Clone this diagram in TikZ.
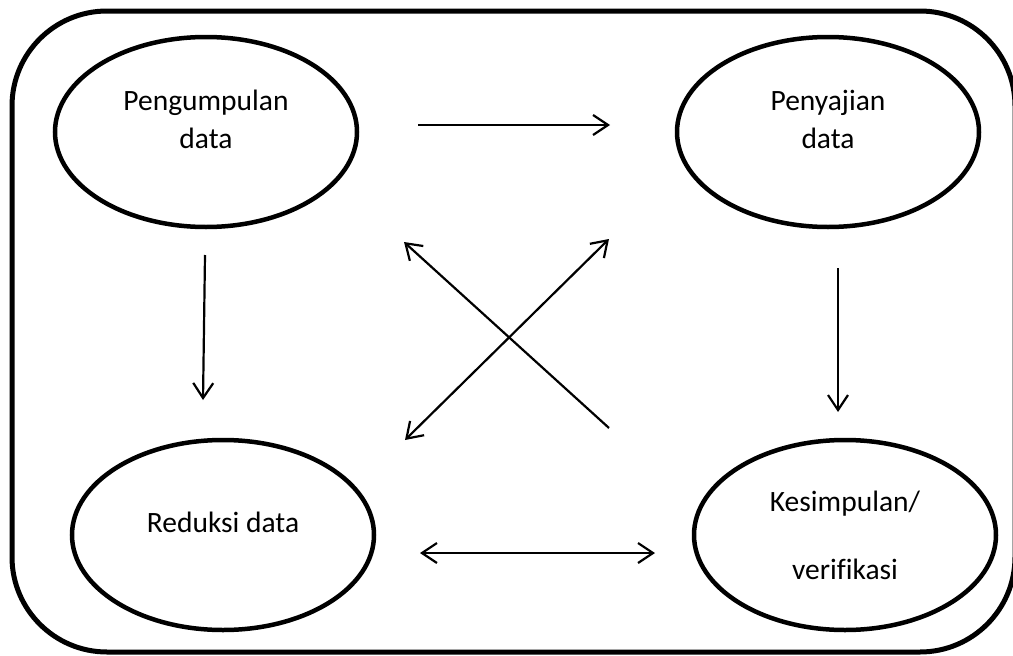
\documentclass[tikz,border=0pt]{standalone}
\usepackage{fontspec}
\setmainfont{Carlito}[Ligatures=NoCommon]
\usetikzlibrary{shapes.geometric,arrows.meta}
\tikzset{
  stage/.style={draw, ellipse, line width=4.5pt, minimum width=302pt, minimum height=190pt, inner sep=0pt},
  caption/.style={align=center, font=\fontsize{29.5}{38}\selectfont},
}
\begin{document}
\begin{tikzpicture}[x=1pt,y=-1pt,>={Straight Barb[length=15pt,width=20pt]}]
  \useasboundingbox (0,0) rectangle (1013,656);
  \draw[line width=5pt, rounded corners=95pt] (12,11) rectangle (1015,652);
  \draw
    (206,132) node[stage] (kumpul){}
    (828,132) node[stage] (saji){}
    (223,535) node[stage] (reduksi){}
    (845,535) node[stage] (simpul){};
  \node[caption, yshift=13pt] (kumpul-t) at (kumpul) {Pengumpulan\\data};
  \node[caption, yshift=13pt] (saji-t) at (saji) {Penyajian\\data};
  \node[caption, yshift=13pt] (reduksi-t) at (reduksi) {Reduksi data};
  \node[caption] (simpul-t) at (simpul) {Kesimpulan/\\[30pt]verifikasi};
  % ujung panah
  \coordinate (a1) at (418,125);  \coordinate (b1) at (610,125);
  \coordinate (a2) at (205,255);  \coordinate (b2) at (203,400);
  \coordinate (a3) at (838,268);  \coordinate (b3) at (838,412);
  \coordinate (a4) at (420,553);  \coordinate (b4) at (655,553);
  \coordinate (a5) at (609,428);  \coordinate (b5) at (404,242);
  \coordinate (a6) at (405,440);  \coordinate (b6) at (609,239);
  \begin{scope}[line width=2.2pt]
    \draw[->] (a1) to (b1);
    \draw[->] (a2) to (b2);
    \draw[->] (a3) to (b3);
    \draw[<->] (a4) to (b4);
    \draw[->] (a5) to (b5);
    \draw[<->] (a6) to (b6);
  \end{scope}
\end{tikzpicture}
\end{document}
